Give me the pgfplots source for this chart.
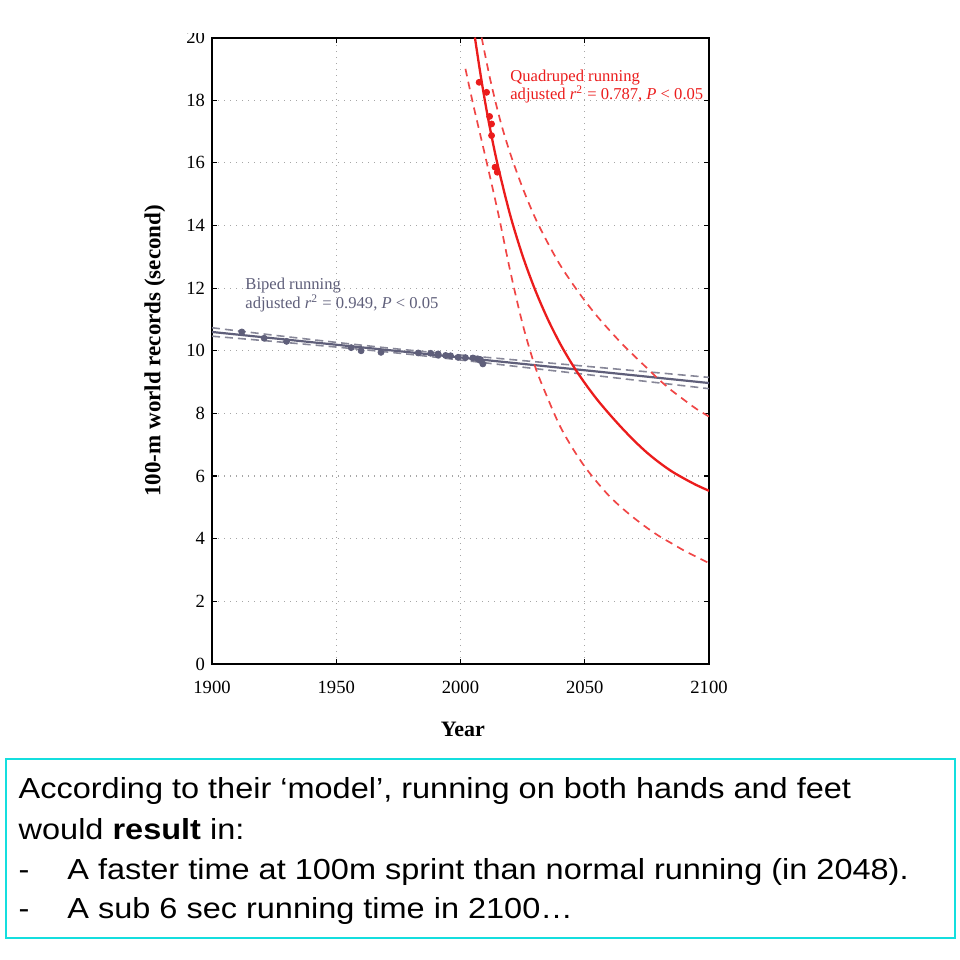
\documentclass[border=0pt]{standalone}
\usepackage{fontspec}
\setmainfont{Liberation Serif}
\newfontfamily\boxfont{Liberation Sans}[FakeStretch=1.12]
\usepackage{pgfplots}
\pgfplotsset{compat=1.18}
\definecolor{biped}{RGB}{95,95,122}
\definecolor{bipedd}{RGB}{135,135,152}
\definecolor{quad}{RGB}{235,28,28}
\definecolor{quadd}{RGB}{240,70,70}
\definecolor{boxc}{RGB}{20,222,222}
\begin{document}
\begin{tikzpicture}
\path[use as bounding box] (0,0) rectangle (480pt,-480pt);
\begin{axis}[
  at={(106pt,-332pt)}, anchor=south west,
  scale only axis, width=248.5pt, height=313.25pt,
  xmin=1900, xmax=2100, ymin=0, ymax=20,
  xtick={1900,1950,...,2100}, ytick={0,2,...,20},
  /pgf/number format/.cd, 1000 sep={}, assume math mode=true, /pgfplots/.cd,
  tick label style={font=\fontsize{9.3}{11}\selectfont},
  xticklabel style={yshift=-5pt},
  axis line style={line width=1pt},
  tick align=inside, major tick length=2.5pt,
  tick style={black, line width=0.6pt},
  grid=major,
  major grid style={gray!70, line width=0.6pt, dash pattern=on 0.7pt off 2.3pt},
  xlabel={Year}, ylabel={100-m world records (second)},
  xlabel style={font=\fontsize{11}{13}\selectfont\bfseries, at={(axis description cs:0.505,-0.105)}, anchor=center},
  ylabel style={font=\fontsize{11.5}{13}\selectfont\bfseries, at={(axis description cs:-0.115,0.5)}, anchor=center},
]
% biped fit and bands
\addplot[biped, line width=1.1pt] coordinates {(1900,10.6) (2100,8.97)};
\addplot[bipedd, line width=0.8pt, dash pattern=on 4pt off 2.5pt, smooth] coordinates {
 (1900,10.735) (1925,10.496) (1950,10.268) (1975,10.054) (2000,9.865) (2025,9.686) (2050,9.508) (2075,9.329) (2100,9.15)};
\addplot[bipedd, line width=0.8pt, dash pattern=on 4pt off 2.5pt, smooth] coordinates {
 (1900,10.465) (1925,10.296) (1950,10.118) (1975,9.924) (2000,9.705) (2025,9.476) (2050,9.248) (2075,9.019) (2100,8.79)};
\addplot[only marks, mark=*, mark size=1.5pt, biped] coordinates {
 (1912,10.6) (1921,10.4) (1930,10.3) (1956,10.1) (1960,10.0) (1968,9.95)
 (1983,9.93) (1988,9.92) (1991,9.90) (1991,9.86) (1994,9.85) (1996,9.84)
 (1999,9.79) (2002,9.78) (2005,9.77) (2007,9.74) (2008,9.72) (2008,9.69) (2009,9.58)};
% quadruped fit and bands
\addplot[quad, line width=1.15pt, smooth] coordinates {
 (2005.8,20.0) (2008,18.85) (2010,17.9) (2012,17.05) (2015,15.92) (2020,14.33)
 (2025,13.03) (2030,11.95) (2035,11.03) (2040,10.24) (2045,9.56) (2050,8.97)
 (2055,8.44) (2060,7.97) (2065,7.53) (2070,7.12) (2075,6.75) (2080,6.43)
 (2085,6.15) (2090,5.92) (2095,5.71) (2100,5.53)};
\addplot[quadd, line width=0.85pt, dash pattern=on 3.8pt off 2.8pt, smooth] coordinates {
 (2008.5,20.0) (2012,18.65) (2016,17.35) (2020,16.3) (2025,15.2) (2030,14.25)
 (2035,13.46) (2040,12.75) (2045,12.15) (2050,11.6) (2055,11.1) (2060,10.65)
 (2065,10.22) (2070,9.83) (2075,9.45) (2080,9.07) (2085,8.73) (2090,8.43)
 (2095,8.14) (2100,7.9)};
\addplot[quadd, line width=0.85pt, dash pattern=on 3.8pt off 2.8pt, smooth] coordinates {
 (2002,19.0) (2005,17.9) (2010,16.2) (2015,14.45) (2020,12.55) (2025,10.85)
 (2030,9.5) (2035,8.5) (2040,7.6) (2045,6.9) (2050,6.3) (2055,5.8) (2060,5.35)
 (2065,4.98) (2070,4.65) (2075,4.35) (2080,4.08) (2085,3.85) (2090,3.62)
 (2095,3.42) (2100,3.22)};
\addplot[only marks, mark=*, mark size=1.5pt, quad] coordinates {
 (2007.5,18.57) (2010.5,18.25) (2011.7,17.48) (2012.5,17.24) (2012.5,16.87) (2013.9,15.86) (2014.8,15.7)};
% annotations
\node[anchor=base west, inner sep=0, text=biped, font=\fontsize{8.3}{10}\selectfont] at (axis cs:1913.3,11.97) {Biped running};
\node[anchor=base west, inner sep=0, text=biped, font=\fontsize{8.3}{10}\selectfont] at (axis cs:1913.3,11.36) {adjusted \textit{r}\textsuperscript{2} = 0.949, \textit{P} < 0.05};
\node[anchor=base west, inner sep=0, text=quad, font=\fontsize{8.3}{10}\selectfont] at (axis cs:2019.9,18.6) {Quadruped running};
\node[anchor=base west, inner sep=0, text=quad, font=\fontsize{8.3}{10}\selectfont] at (axis cs:2019.9,18.02) {adjusted \textit{r}\textsuperscript{2} = 0.787, \textit{P} < 0.05};
\end{axis}
\fill[white] (0,0) rectangle (480pt,-16.6pt);
% text box
\draw[boxc, line width=1.3pt] (3pt,-379.5pt) rectangle (477.5pt,-469pt);
\begin{scope}[every node/.style={anchor=base west, inner sep=0, font=\boxfont\fontsize{14.5}{17}\selectfont}]
\node at (9.15pt,-399.15pt) {According to their ‘model’, running on both hands and feet};
\node at (9.15pt,-419.65pt) {would \textbf{result} in:};
\node at (9.15pt,-439.65pt) {-};
\node at (33.5pt,-439.65pt) {A faster time at 100m sprint than normal running (in 2048).};
\node at (9.15pt,-459.15pt) {-};
\node at (33.5pt,-459.15pt) {A sub 6 sec running time in 2100…};
\end{scope}
\end{tikzpicture}
\end{document}
